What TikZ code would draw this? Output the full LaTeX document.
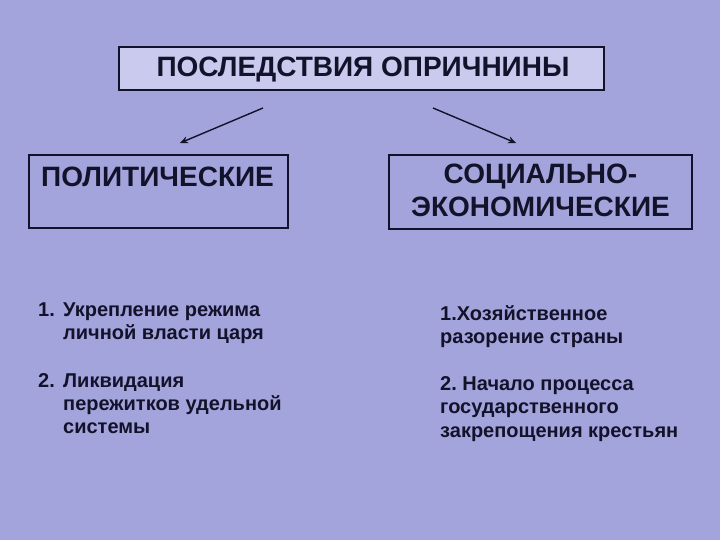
\documentclass[tikz,border=0pt]{standalone}
\usepackage{fontspec}
\usetikzlibrary{arrows.meta}
\setmainfont{Liberation Sans}
\frenchspacing
\definecolor{bg}{HTML}{A4A4DD}
\definecolor{topfill}{HTML}{CACAEE}
\definecolor{ink}{HTML}{12122A}
\begin{document}
\begin{tikzpicture}[x=1pt,y=-1pt,
  box/.style={draw=ink,line width=1.6pt},
  lst/.style={anchor=base west,inner sep=0pt,text=ink,font=\bfseries\fontsize{20}{24}\selectfont},
  head/.style={anchor=base,inner sep=0pt,text=ink,font=\bfseries\fontsize{28}{32}\selectfont},
  arr/.style={draw=ink,line width=1.4pt,-{Stealth[length=8pt,width=7pt]}}]
\fill[bg] (0,0) rectangle (720,540);
\useasboundingbox (0,0) rectangle (720,540);
% boxes
\draw[box,fill=topfill] (119,47) rectangle (604,90);
\node[text=ink,font=\bfseries\fontsize{28}{30}\selectfont,anchor=base,inner sep=0pt] (title) at (363,77) {ПОСЛЕДСТВИЯ ОПРИЧНИНЫ};
\draw[box,fill=bg] (29,155) rectangle (288,228);
\node[head] (pol) at (157.5,187) {ПОЛИТИЧЕСКИЕ};
\draw[box,fill=bg] (389,155) rectangle (692,229);
\node[head] (soc1) at (540.5,184) {СОЦИАЛЬНО-};
\node[head] (soc2) at (540.5,216) {ЭКОНОМИЧЕСКИЕ};
% arrows
\coordinate (a1s) at (263,108);
\coordinate (a1e) at (180,143);
\coordinate (a2s) at (433,108);
\coordinate (a2e) at (516,143);
\draw[arr] (a1s) -- (a1e);
\draw[arr] (a2s) -- (a2e);
% lists
\node[lst] (l1n) at (38,316) {1.};
\node[lst] (l1a) at (63,316) {Укрепление режима};
\node[lst] (l1b) at (63,339) {личной власти царя};
\node[lst] (l2n) at (38,387) {2.};
\node[lst] (l2a) at (63,387) {Ликвидация};
\node[lst] (l2b) at (63,410) {пережитков удельной};
\node[lst] (l2c) at (63,433) {системы};
\node[lst] (r1a) at (440,320) {1.Хозяйственное};
\node[lst] (r1b) at (440,343) {разорение страны};
\node[lst] (r2a) at (440,390) {2.\ Начало процесса};
\node[lst] (r2b) at (440,413) {государственного};
\node[lst] (r2c) at (440,437) {закрепощения крестьян};
\end{tikzpicture}
\end{document}
